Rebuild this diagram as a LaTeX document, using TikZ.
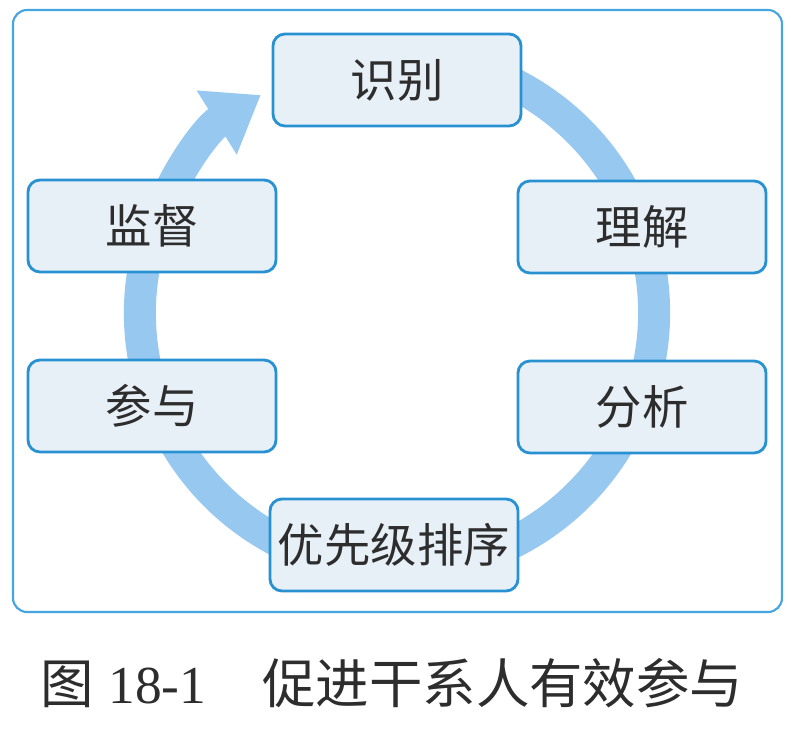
\documentclass[tikz,border=0pt]{standalone}
\usepackage{fontspec}
\setmainfont{Liberation Serif}
\newfontfamily\cjk{Noto Sans CJK SC}
\usetikzlibrary{arrows.meta}
\definecolor{frameblue}{RGB}{70,165,225}
\definecolor{boxline}{RGB}{40,145,210}
\definecolor{boxfill}{RGB}{232,240,247}
\definecolor{ringblue}{RGB}{150,200,240}
\definecolor{inkgray}{RGB}{45,45,45}

\begin{document}
\begin{tikzpicture}[
    x=0.025cm, y=0.025cm,
    frame/.style = {draw=frameblue, line width=1.5pt, rounded corners=0.35cm},
    ring/.style = {draw=ringblue, line width=0.8cm, -{Triangle[length=1.3cm, width=1.8cm]}},
    stage/.style = {rectangle, draw=boxline, fill=boxfill, line width=2pt, rounded corners=0.3cm, minimum width=6.2cm, minimum height=2.3cm, text=inkgray, font=\cjk\fontsize{33}{36}\selectfont},
    caption/.style = {anchor=west, text=inkgray, font=\fontsize{38}{42}\selectfont}
]
    \useasboundingbox (0,0) rectangle (792,732);
    \draw [frame] (13,120) rectangle (782,722);
    \coordinate (hub) at (397,419);
    \draw [ring] (hub) ++(75:6.425cm) arc[start angle=75, end angle=-238, radius=6.425cm];
    \node [stage] (identify) at (397,652) {识别};
    \node [stage] (understand) at (642,505) {理解};
    \node [stage] (analyse) at (642,325) {分析};
    \node [stage] (prioritise) at (394,187) {优先级排序};
    \node [stage] (engage) at (152,326) {参与};
    \node [stage] (monitor) at (152,506) {监督};
    \node [caption] (title) at (36,49) {{\cjk 图}\hspace{0.35cm}18-1\hspace{1.4cm}{\cjk 促进干系人有效参与}};
\end{tikzpicture}
\end{document}
